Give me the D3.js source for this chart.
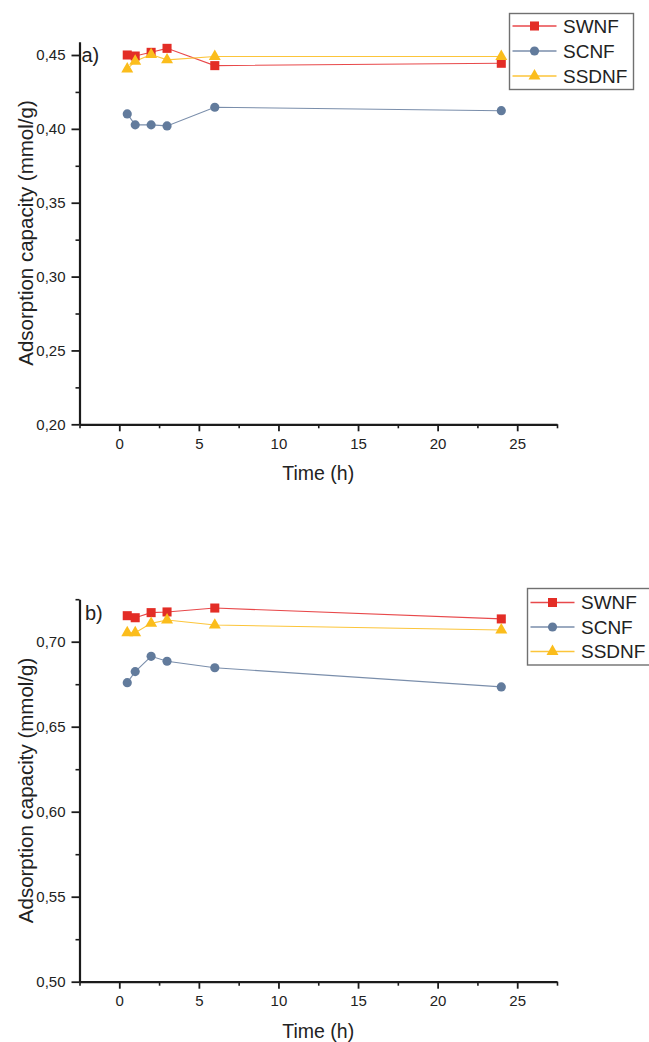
<!DOCTYPE html>
<html>
<head>
<meta charset="utf-8">
<script src="https://cdn.jsdelivr.net/npm/d3@7"></script>
<style>
  html, body { margin: 0; padding: 0; background: #fff; }
  svg { display: block; font-family: "Liberation Sans", Arial, sans-serif; }
</style>
</head>
<body>
<svg id="chart" width="649" height="1042"></svg>
<script>
// Sampling times (h)
const times = [0.5, 1, 2, 3, 6, 24];

// Series names in legend order
const seriesNames = ["SWNF", "SCNF", "SSDNF"];

// Panel a) adsorption capacity (mmol/g)
const aSWNF  = [0.4500, 0.4493, 0.4518, 0.4545, 0.4428, 0.4444];
const aSCNF  = [0.4101, 0.4027, 0.4027, 0.4020, 0.4146, 0.4123];
const aSSDNF = [0.4405, 0.4458, 0.4503, 0.4467, 0.4490, 0.4490];

// Panel b) adsorption capacity (mmol/g)
const bSWNF  = [0.7153, 0.7141, 0.7171, 0.7175, 0.7198, 0.7134];
const bSCNF  = [0.6759, 0.6824, 0.6914, 0.6885, 0.6847, 0.6734];
const bSSDNF = [0.7053, 0.7053, 0.7108, 0.7128, 0.7098, 0.7069];

// Axis ticks
const xMajorTicks = [0, 5, 10, 15, 20, 25];
const xMinorTicks = [-2.5, 2.5, 7.5, 12.5, 17.5, 22.5, 27.5];
const aYMajorTicks = [0.20, 0.25, 0.30, 0.35, 0.40, 0.45];
const aYMinorTicks = [0.225, 0.275, 0.325, 0.375, 0.425];
const bYMajorTicks = [0.50, 0.55, 0.60, 0.65, 0.70];
const bYMinorTicks = [0.525, 0.575, 0.625, 0.675, 0.725];

const xTitle = "Time (h)";
const yTitle = "Adsorption capacity (mmol/g)";

// Styling
const markerColor = { SWNF: "#e32d26", SCNF: "#627b9c", SSDNF: "#fbbd1c" };
const lineColor   = { SWNF: "#e8494b", SCNF: "#7a8eab", SSDNF: "#fcc53a" };
const symbolType  = { SWNF: d3.symbolSquare, SCNF: d3.symbolCircle, SSDNF: d3.symbolTriangle };
const symbolSize  = { SWNF: 82, SCNF: 66, SSDNF: 62 };
const axisColor = "#1b1b1b";
const textColor = "#222";

const commaLocale = d3.formatLocale({ decimal: ",", thousands: ".", grouping: [3], currency: ["", ""] });
const fmtY = commaLocale.format(".2f");

const svg = d3.select("#chart");

function drawPanel(cfg) {
  const g = svg.append("g");
  const x = d3.scaleLinear().domain([-2.5, 27.5]).range([79.5, 557]);
  const y = d3.scaleLinear().domain(cfg.yDomain).range(cfg.yRange);
  const x0 = x.range()[0];
  const y0 = y.range()[0];

  // Minor ticks
  g.append("g")
    .attr("transform", `translate(0,${y0})`)
    .call(d3.axisBottom(x).tickValues(xMinorTicks).tickSize(4).tickSizeOuter(0).tickFormat(""))
    .call(s => s.select(".domain").remove())
    .call(s => s.selectAll("line").attr("stroke", axisColor).attr("stroke-width", 1.6));
  g.append("g")
    .attr("transform", `translate(${x0},0)`)
    .call(d3.axisLeft(y).tickValues(cfg.yMinor).tickSize(4).tickSizeOuter(0).tickFormat(""))
    .call(s => s.select(".domain").remove())
    .call(s => s.selectAll("line").attr("stroke", axisColor).attr("stroke-width", 1.6));

  // Major axes
  const xAxis = g.append("g")
    .attr("transform", `translate(0,${y0})`)
    .call(d3.axisBottom(x).tickValues(xMajorTicks).tickSize(7).tickSizeOuter(0).tickPadding(7).tickFormat(d3.format("d")));
  const yAxis = g.append("g")
    .attr("transform", `translate(${x0},0)`)
    .call(d3.axisLeft(y).tickValues(cfg.yMajor).tickSize(8).tickSizeOuter(0).tickPadding(6).tickFormat(fmtY));
  [xAxis, yAxis].forEach(ax => {
    ax.select(".domain").attr("stroke", axisColor).attr("stroke-width", 2.2);
    ax.selectAll(".tick line").attr("stroke", axisColor).attr("stroke-width", 1.8);
    ax.selectAll(".tick text").attr("fill", textColor).style("font-size", "15px")
      .style("font-family", "'Liberation Sans', Arial, sans-serif");
  });

  // Axis titles
  g.append("text")
    .attr("x", (x.range()[0] + x.range()[1]) / 2)
    .attr("y", y0 + 56)
    .attr("text-anchor", "middle")
    .attr("fill", textColor)
    .style("font-size", "19.5px")
    .text(xTitle);
  g.append("text")
    .attr("transform", `translate(33,${(y.range()[0] + y.range()[1]) / 2}) rotate(-90)`)
    .attr("text-anchor", "middle")
    .attr("fill", textColor)
    .style("font-size", "20.5px")
    .text(yTitle);

  // Panel label
  g.append("text")
    .attr("x", cfg.labelPos[0])
    .attr("y", cfg.labelPos[1])
    .attr("fill", textColor)
    .style("font-size", "20px")
    .text(cfg.label);

  // Series lines and markers
  seriesNames.forEach(name => {
    const vals = cfg.series[name];
    const pts = times.map((t, i) => [t, vals[i]]);
    g.append("path")
      .datum(pts)
      .attr("fill", "none")
      .attr("stroke", lineColor[name])
      .attr("stroke-width", 1.1)
      .attr("d", d3.line().x(d => x(d[0])).y(d => y(d[1])));
  });
  seriesNames.forEach(name => {
    const vals = cfg.series[name];
    const pts = times.map((t, i) => [t, vals[i]]);
    g.selectAll(null)
      .data(pts)
      .join("path")
      .attr("transform", d => `translate(${x(d[0])},${y(d[1])})`)
      .attr("d", d3.symbol().type(symbolType[name]).size(symbolSize[name]))
      .attr("fill", markerColor[name]);
  });

  // Legend
  const L = cfg.legend;
  const lg = g.append("g").attr("transform", `translate(${L.x},${L.y})`);
  lg.append("rect")
    .attr("x", 0).attr("y", 0)
    .attr("width", L.w).attr("height", L.h)
    .attr("fill", "#fff")
    .attr("stroke", "#707070")
    .attr("stroke-width", 1.4);
  seriesNames.forEach((name, i) => {
    const cy = L.row0 + i * L.rowStep;
    lg.append("line")
      .attr("x1", 3).attr("x2", 47)
      .attr("y1", cy).attr("y2", cy)
      .attr("stroke", lineColor[name])
      .attr("stroke-width", 1.3);
    lg.append("path")
      .attr("transform", `translate(25,${cy})`)
      .attr("d", d3.symbol().type(symbolType[name]).size(symbolSize[name]))
      .attr("fill", markerColor[name]);
    lg.append("text")
      .attr("x", 53.5)
      .attr("y", cy)
      .attr("dy", "0.35em")
      .attr("fill", textColor)
      .style("font-size", "19px")
      .text(name);
  });
}

drawPanel({
  yDomain: [0.20, 0.459],
  yRange: [424.3, 41.7],
  yMajor: aYMajorTicks,
  yMinor: aYMinorTicks,
  label: "a)",
  labelPos: [81.5, 62],
  series: { SWNF: aSWNF, SCNF: aSCNF, SSDNF: aSSDNF },
  legend: { x: 509.5, y: 13.5, w: 124, h: 76, row0: 12.5, rowStep: 25 }
});

drawPanel({
  yDomain: [0.50, 0.725],
  yRange: [981.7, 599.2],
  yMajor: bYMajorTicks,
  yMinor: bYMinorTicks,
  label: "b)",
  labelPos: [85, 620],
  series: { SWNF: bSWNF, SCNF: bSCNF, SSDNF: bSSDNF },
  legend: { x: 527.5, y: 588.5, w: 124, h: 76.5, row0: 14, rowStep: 24.5 }
});
</script>
</body>
</html>
